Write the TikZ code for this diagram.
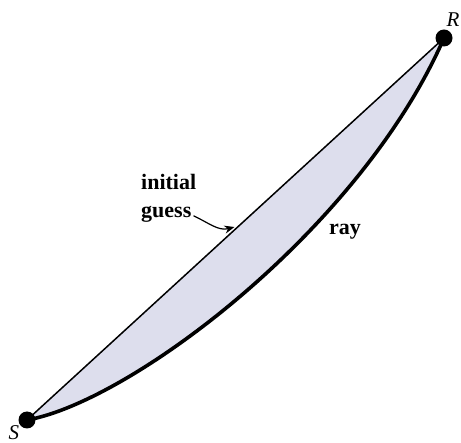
\documentclass[tikz,border=0pt]{standalone}
\usepackage{fontspec}
\setmainfont{Liberation Serif}
\usetikzlibrary{arrows.meta,calc}
\definecolor{areafill}{RGB}{221,222,237}
\tikzset{
  dot/.style={circle,fill=black,inner sep=0pt,minimum size=17pt},
  lbl/.style={font=\fontsize{22}{24}\selectfont\bfseries,inner sep=0pt},
  endlbl/.style={font=\fontsize{21}{24}\selectfont\itshape,inner sep=0pt},
  guessline/.style={line width=1.5pt},
  rayline/.style={line width=3.6pt},
}
\begin{document}
\begin{tikzpicture}[x=1pt,y=-1pt]
\clip (0,0) rectangle (461,443);
\fill[white] (0,0) rectangle (461,443);
\coordinate (S) at (27,420);
\coordinate (R) at (444,38);
\fill[areafill] (S) -- (R) .. controls (360,230) and (130,402) .. (S);
\draw[guessline] (S) -- (R);
\draw[rayline] (S) .. controls (130,402) and (360,230) .. (R);
\node[dot] (Sd) at (S) {};
\node[dot] (Rd) at (R) {};
\node[endlbl] (Sl) at (14,433) {S};
\node[endlbl] (Rl) at (453,20) {R};
\node[lbl,anchor=base west] (ini) at (141,190) {initial};
\node[lbl,anchor=base west] (gs) at (141,218) {guess};
\coordinate (tip) at ($(S)!0.5!(R)+(-1,-2)$);
\draw[line width=1.2pt,-{Stealth[length=10pt,width=8pt]}] ([xshift=2pt,yshift=-1pt]gs.east) to[out=-25,in=195] (tip);
\node[lbl,anchor=base west] (ray) at (329,235) {ray};
\end{tikzpicture}
\end{document}
